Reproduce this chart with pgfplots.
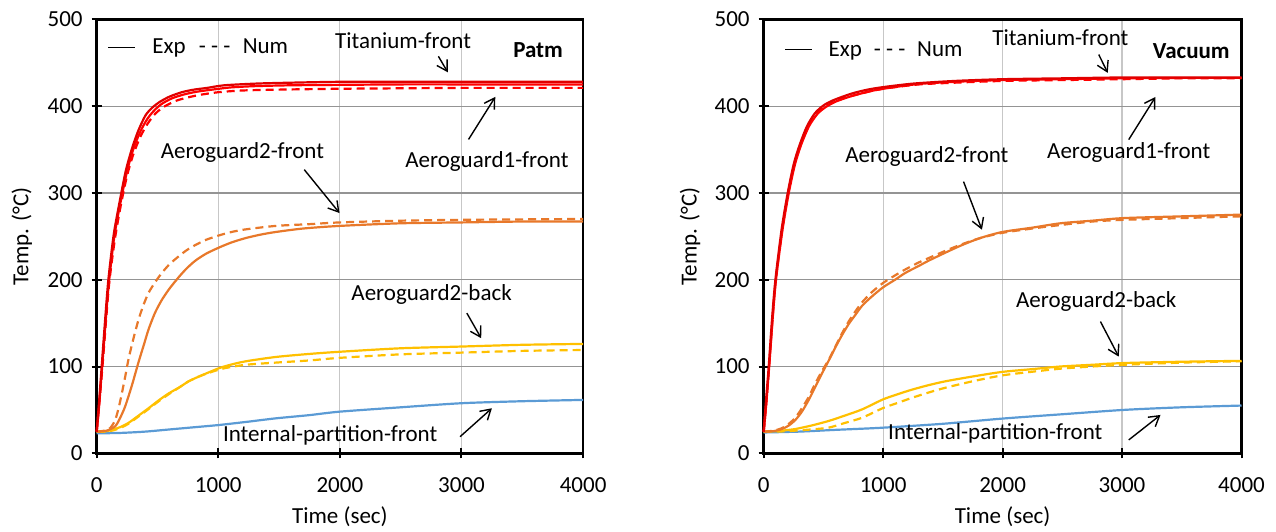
\documentclass[border=0pt]{standalone}
\usepackage{fontspec}
\setmainfont{Carlito}
\usepackage{pgfplots}
\pgfplotsset{compat=1.18}
\usetikzlibrary{arrows.meta}
\definecolor{cRed}{HTML}{FF0000}
\definecolor{cRedD}{HTML}{E00000}
\definecolor{cOrange}{HTML}{E8782A}
\definecolor{cYellow}{HTML}{FFC000}
\definecolor{cBlue}{HTML}{5B9BD5}
\newcommand{\fs}{\fontsize{11.5}{13}\selectfont}
\tikzset{
  arr/.style={black, line width=0.7pt, -{Straight Barb[length=5pt,width=6pt]}},
}
\newcommand{\legline}{\rule[2.9pt]{13.5pt}{0.55pt}}
\pgfplotsset{
  exp/.style={line width=1.1pt, smooth, tension=0.45},
  num/.style={line width=1.1pt, smooth, tension=0.45, dash pattern=on 4pt off 2.5pt},
  myaxis/.style={
    scale only axis, width=243.2pt, height=217pt,
    xmin=0, xmax=4000, ymin=0, ymax=500,
    xtick={0,1000,2000,3000,4000}, ytick={0,100,200,300,400,500},
    xmajorgrids, ymajorgrids,
    x grid style={draw=black!22, line width=0.6pt},
    y grid style={draw=black!42, line width=0.6pt},
    axis line style={line width=1.3pt},
    major tick style={black, line width=1pt},
    major tick length=5pt, tick align=center,
    xtick pos=bottom, ytick pos=left,
    /pgf/number format/assume math mode=true,
    /pgf/number format/set thousands separator={},
    tick label style={font=\fs},
    xticklabel style={yshift=-6pt},
    yticklabel style={xshift=-1pt},
    xlabel={Time (sec)}, ylabel={Temp. (°C)},
    every axis x label/.style={at={(axis description cs:0.5,-0.145)}, anchor=center, font=\fs},
    every axis y label/.style={at={(axis description cs:-0.154,0.5)}, rotate=90, anchor=center, font=\fs},
    clip=false,
  },
}
\begin{document}
\begin{tikzpicture}
% ================= LEFT: Patm =================
\begin{axis}[myaxis, at={(0pt,0pt)}]
% Blue internal partition
\addplot[exp, cBlue] coordinates {(0,23) (200,23.5) (400,25) (600,27.5) (800,30) (1005,32.6) (1250,36.5) (1474,40.3) (1750,44) (2000,48) (2500,53) (3000,57.7) (3500,60) (4000,61.5)};
% Yellow Aeroguard2-back
\addplot[num, cYellow] coordinates {(0,25) (60,25) (124,26) (190,29) (261,34) (340,42) (427,51) (510,60) (592,68) (680,76) (757,83) (850,89) (950,94) (1050,98) (1226,102) (1474,104.5) (1750,107) (2000,110) (2500,114) (3000,116) (3500,118) (4000,119)};
\addplot[exp, cYellow] coordinates {(0,25) (60,25) (124,27) (190,30) (261,35) (340,43) (427,52) (510,61) (592,69) (680,76) (757,83) (850,89) (1005,98) (1100,102) (1226,106) (1474,111) (1750,114.5) (2000,117) (2500,121) (3000,123) (3500,125) (4000,126)};
% Orange Aeroguard2-front
\addplot[num, cOrange] coordinates {(0,25) (60,26) (110,29) (151,38) (180,52) (207,69) (234,88) (261,108) (300,131) (344,154) (385,171) (427,185) (480,197) (537,208) (600,218) (675,227) (740,234) (812,240) (900,246) (1005,251) (1110,255) (1226,258) (1474,262) (1750,264) (2000,266) (2500,268) (3000,269) (3500,269.5) (4000,270)};
\addplot[exp, cOrange] coordinates {(0,25) (80,26) (151,31) (190,40) (234,54) (289,78) (344,105) (390,126) (427,143) (480,162) (537,177) (600,190) (675,203) (740,213) (812,222) (900,230) (1005,237) (1110,243) (1226,248) (1350,252) (1474,255) (1700,259) (2000,262) (2500,265) (3000,266) (3500,267) (4000,267)};
% Red
\addplot[num, cRed] coordinates {(0,25) (45,96) (100,192) (150,247) (200,287) (250,320) (300,344) (360,365) (420,380) (480,391) (550,399) (650,406) (750,410) (850,413) (1000,416) (1200,418) (1500,419) (2000,420) (2500,420.5) (3000,421) (3500,421) (4000,421)};
\addplot[exp, cRed] coordinates {(0,25) (20,55) (45,100) (75,155) (100,196) (145,250) (200,292) (250,325) (300,350) (360,371) (420,386) (480,396) (540,403) (620,409) (720,413.5) (820,416.5) (950,419) (1100,421.5) (1300,423) (1600,424) (2000,424.5) (2500,425) (3000,425) (3500,425) (4000,425)};
\addplot[exp, cRedD] coordinates {(0,25) (20,60) (41,100) (70,155) (96,200) (140,252) (193,293) (240,326) (290,351) (340,371) (400,389) (455,398) (520,405) (600,411) (700,416) (800,419) (909,421) (1050,424) (1322,426) (1600,427) (2000,428) (2500,428) (3000,428) (3500,428) (4000,428)};
% annotations
\node[font=\fs, anchor=base west, inner sep=0pt] at (axis cs:93,460.5) {\legline};
\node[font=\fs, anchor=base west, inner sep=0pt] at (axis cs:455,460.5) {Exp};
\node[font=\fs, anchor=base west, inner sep=0pt] at (axis cs:837,460.5) {- - -};
\node[font=\fs, anchor=base west, inner sep=0pt] at (axis cs:1198,460.5) {Num};
\node[font=\fs] at (axis cs:2520,475) {Titanium-front};
\draw[arr] (axis cs:2810,457.4) -- (axis cs:2887,439);
\node[font=\fs\bfseries] at (axis cs:3630,465) {Patm};
\node[font=\fs] at (axis cs:3209,336) {Aeroguard1-front};
\draw[arr] (axis cs:3058,361.6) -- (axis cs:3278,410.6);
\node[font=\fs] at (axis cs:1198,346) {Aeroguard2-front};
\draw[arr] (axis cs:1707,326.8) -- (axis cs:1997,276.8);
\node[font=\fs] at (axis cs:2754,182.6) {Aeroguard2-back};
\draw[arr] (axis cs:3044,161.5) -- (axis cs:3162,132.6);
\node[font=\fs] at (axis cs:1920,21) {Internal-partition-front};
\draw[arr] (axis cs:2988,19.1) -- (axis cs:3250,51.9);
\end{axis}
% ================= RIGHT: Vacuum =================
\begin{axis}[myaxis, at={(333.5pt,0pt)}, width=238.9pt]
\addplot[exp, cBlue] coordinates {(0,24) (300,25) (600,27) (997,29.5) (1500,34) (1998,40) (2500,45) (3014,50) (3500,53) (4000,55)};
\addplot[num, cYellow] coordinates {(0,25) (100,25) (200,25.5) (300,26.5) (400,27.5) (545,29.6) (680,35) (824,41) (997,52) (1120,58) (1243,64) (1380,70) (1523,75.6) (1750,83) (1998,89.8) (2250,94) (2484,97.5) (2750,100) (3014,102) (3500,104.5) (4000,106)};
\addplot[exp, cYellow] coordinates {(0,25) (100,25.5) (180,26.5) (265,28) (400,32) (545,37.3) (680,43.5) (824,50.6) (997,62) (1120,68) (1243,73.4) (1380,78.5) (1523,83) (1750,88.5) (1998,93.8) (2250,97) (2484,100) (2750,102) (3014,104) (3500,105.5) (4000,106.5)};
\addplot[num, cOrange] coordinates {(0,25) (80,26) (153,29) (210,34) (265,41) (320,52) (377,65) (430,80) (489,95) (545,108) (600,123) (655,138) (712,152) (770,164) (824,174) (900,185) (997,196) (1100,205) (1188,212) (1300,220) (1382,225) (1534,234) (1662,241) (1813,248) (1998,254) (2250,259) (2484,263) (2750,267) (3014,269) (3500,271) (4000,273)};
\addplot[exp, cOrange] coordinates {(0,25) (80,25.5) (153,28) (210,32) (265,38.4) (320,48) (377,61.5) (430,76) (489,92.3) (545,107) (600,122) (655,136) (712,149) (770,160) (824,170) (900,180) (997,191) (1100,200) (1188,208) (1300,216) (1382,222) (1534,232) (1662,240) (1813,248) (1998,255) (2250,260) (2484,265) (2750,268) (3014,271) (3500,273) (4000,275)};
\addplot[num, cRed] coordinates {(0,25) (22,58) (45,100) (74,155) (101,200) (155,258) (206,300) (257,333) (308,355) (372,377) (440,391) (510,399) (590,405) (690,410) (800,414) (920,418) (1050,421) (1300,425) (1600,427) (2000,429) (2500,430) (3000,431) (3500,432) (4000,432)};
\addplot[exp, cRed] coordinates {(0,25) (22,58) (46,100) (75,155) (103,200) (158,258) (210,300) (262,333) (315,356) (380,377) (450,391) (520,399) (600,405) (700,410) (800,414) (920,418) (1050,421) (1300,425.5) (1600,428) (2000,430) (2500,431) (3000,432) (3500,432.5) (4000,432.5)};
\addplot[exp, cRedD] coordinates {(0,25) (20,62) (42,100) (70,155) (98,200) (150,258) (201,300) (251,333) (300,355) (363,377) (430,392) (503,401) (570,406) (643,410) (750,415) (870,419) (1006,422) (1257,426) (1600,429) (2000,431) (2500,432) (3000,433) (3500,433) (4000,433)};
\node[font=\fs, anchor=base west, inner sep=0pt] at (axis cs:179,457.4) {\legline};
\node[font=\fs, anchor=base west, inner sep=0pt] at (axis cs:541,457.4) {Exp};
\node[font=\fs, anchor=base west, inner sep=0pt] at (axis cs:919,457.4) {- - -};
\node[font=\fs, anchor=base west, inner sep=0pt] at (axis cs:1282,457.4) {Num};
\node[font=\fs] at (axis cs:2484,478.6) {Titanium-front};
\draw[arr] (axis cs:2805,459.4) -- (axis cs:2880,438.3);
\node[font=\fs\bfseries] at (axis cs:3580,463) {Vacuum};
\node[font=\fs] at (axis cs:3056,346) {Aeroguard1-front};
\draw[arr] (axis cs:3056,361.4) -- (axis cs:3280,410.6);
\node[font=\fs] at (axis cs:1366,342) {Aeroguard2-front};
\draw[arr] (axis cs:1673,313) -- (axis cs:1827,257.6);
\node[font=\fs] at (axis cs:2784,175) {Aeroguard2-back};
\draw[arr] (axis cs:2819,151.8) -- (axis cs:2972,111.4);
\node[font=\fs] at (axis cs:1939,23) {Internal-partition-front};
\draw[arr] (axis cs:3056,15.4) -- (axis cs:3322,44.2);
\end{axis}
\pgfresetboundingbox
\path[use as bounding box] (-48.35pt,-38.85pt) rectangle (589.65pt,226.65pt);
\end{tikzpicture}
\end{document}
